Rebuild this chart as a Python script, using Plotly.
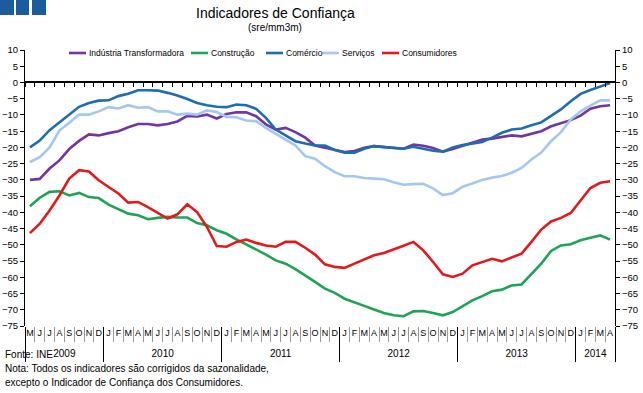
import plotly.graph_objects as go

# ---------------- data ----------------
years = ["2009", "2010", "2011", "2012", "2013", "2014"]
months_per_year = [8, 12, 12, 12, 12, 4]
month_letters = ["J", "F", "M", "A", "M", "J", "J", "A", "S", "O", "N", "D"]
start_month = 4  # May (0 = Jan)

industria = [-30, -29.7, -26.5, -24, -20.5, -18, -16, -16.3,
             -15.6, -15, -13.8, -12.8, -12.8, -13.2, -12.8, -12, -10.3, -10.5, -9.9, -11.1,
             -9.7, -9.2, -9.2, -10.4, -12.9, -14.5, -14, -15.3, -17, -19.4, -20.1, -20.8,
             -21.4, -21.1, -20.1, -19.6, -19.9, -20.1, -20.4, -19.1, -19.5, -20.2, -21.3, -20.5,
             -19.5, -18.5, -17.6, -17.3, -16.8, -16.3, -16.6, -15.7, -15, -13.5, -12.6, -11.6,
             -10.2, -8.1, -7.3, -7]
construcao = [-38.1, -35.5, -33.7, -33.5, -34.8, -34, -35.3, -35.6,
              -37.6, -38.9, -40.4, -40.9, -42.1, -41.7, -41.4, -41.6, -41.6, -43.3, -44, -45.5,
              -46.6, -48.3, -49.8, -51.5, -53, -54.8, -55.8, -57.5, -59.4, -61.4, -63.5, -64.8,
              -66.6, -67.6, -68.8, -69.9, -71, -71.7, -72, -70.5, -70.4, -71, -71.7, -70.7,
              -68.9, -67.1, -65.8, -64.3, -63.8, -62.5, -62.2, -58.9, -55.8, -51.9, -50.2, -49.8,
              -48.6, -47.8, -47.1, -48.4]
comercio = [-20, -17.9, -14.7, -12.2, -9.7, -7.5, -6.3, -5.6,
            -5.5, -4.2, -3.5, -2.4, -2.4, -2.5, -3.2, -4, -5.1, -6.3, -7, -7.5,
            -7.6, -6.8, -7, -8.1, -10.9, -14.5, -16.3, -18.1, -18.8, -19.4, -19.4, -20.8,
            -21.6, -21.6, -20.4, -19.6, -19.9, -20.1, -20.4, -19.8, -20.5, -21, -21.3, -20,
            -19.3, -18.7, -18.3, -17, -15.5, -14.5, -14.2, -13.2, -12.3, -10.3, -8.3, -5.8,
            -3.5, -2.3, -1.2, -0.2]
servicos = [-24.5, -23, -20, -14.8, -12.4, -9.9, -9.9, -8.9,
            -7.6, -8, -7, -7.8, -7.6, -8.9, -8.9, -9.9, -9.6, -9.9, -8.6, -9.1,
            -10.6, -10.7, -11.7, -11.9, -14, -15.7, -17.6, -19.4, -22.7, -23.5, -25.8, -27.6,
            -28.9, -28.9, -29.4, -29.6, -29.8, -30.7, -31.5, -31.3, -31.2, -32.6, -34.7, -34.1,
            -32.1, -31.1, -30, -29.3, -28.8, -27.8, -26.3, -23.7, -21.6, -18.1, -15.3, -11.4,
            -8.9, -7.1, -5.5, -5.5]
consumidores = [-46.4, -43.5, -39.4, -34.8, -29.6, -27, -27.4, -30.1,
                -32.2, -34.2, -37, -36.8, -38.4, -40.1, -41.9, -40.6, -37.5, -39.9, -44.5, -50.4,
                -50.6, -49.1, -48.4, -49.4, -50.2, -50.6, -49.1, -49.1, -50.9, -53, -56, -56.8,
                -57.1, -55.8, -54.5, -53.2, -52.5, -51.5, -50.3, -49.1, -51.7, -55.3, -59.1, -59.9,
                -58.9, -56.3, -55.3, -54.3, -55.1, -53.9, -52.7, -49.1, -45.3, -42.8, -41.7, -40.2,
                -36.5, -32.5, -30.9, -30.4]

series_names = ["Indústria Transformadora", "Construção", "Comércio", "Serviços", "Consumidores"]
series_values = [industria, construcao, comercio, servicos, consumidores]
series_colors = ["#7236A0", "#1FA356", "#1F6CB0", "#A4C7EF", "#E31A1C"]

# categories (one per month) and their letters
categories, tick_letters = [], []
m = start_month
for y, n in zip(years, months_per_year):
    for k in range(n):
        categories.append(f"{y}-{m + 1:02d}")
        tick_letters.append(month_letters[m])
        m = (m + 1) % 12

n_cat = len(categories)
idx = list(range(n_cat))
bounds, centers = [-0.5], []
pos = 0
for n in months_per_year:
    centers.append(pos + (n - 1) / 2)
    pos += n
    bounds.append(pos - 0.5)

YMIN, YMAX = -75, 10
FONT = "Liberation Sans, Arial, sans-serif"

# layout geometry (pixels)
W, H = 643, 393
ML, MR, MT, MB = 25, 28, 50, 67
PW, PH = W - ML - MR, H - MT - MB


def px_x(p):
    return (p - ML) / PW


def px_y(p):
    return (H - MB - p) / PH


fig = go.Figure()
for name, vals, col in zip(series_names, series_values, series_colors):
    fig.add_trace(go.Scatter(x=categories, y=vals, mode="lines", name=name,
                             line=dict(color=col, width=2.6), hoverinfo="x+y"))

# invisible helper traces so that the overlay axes are drawn
for ax in ["x2", "x3", "x4", "x5"]:
    fig.add_trace(go.Scatter(x=idx, y=[None] * n_cat, xaxis=ax, yaxis="y",
                             showlegend=False, hoverinfo="skip", mode="lines"))
fig.add_trace(go.Scatter(x=categories, y=[None] * n_cat, yaxis="y2",
                         showlegend=False, hoverinfo="skip", mode="lines"))

zero_pos = (0 - YMIN) / (YMAX - YMIN)
xr = [-0.5, n_cat - 0.5]
common = dict(showgrid=False, zeroline=False, automargin=False)

fig.update_layout(
    width=W, height=H,
    margin=dict(l=ML, r=MR, t=MT, b=MB, autoexpand=False),
    paper_bgcolor="white", plot_bgcolor="white",
    font=dict(family=FONT, size=10, color="black"),
    showlegend=False,
    xaxis=dict(type="category", range=xr, tickmode="array", tickvals=categories,
               ticktext=tick_letters, ticks="", showline=False, tickangle=0,
               tickfont=dict(size=9), **common),
    xaxis2=dict(overlaying="x", anchor="y", range=xr, tick0=-0.5, dtick=1,
                ticks="outside", ticklen=15, tickcolor="#9a9a9a", tickwidth=1,
                showticklabels=False, showline=False, **common),
    xaxis3=dict(overlaying="x", anchor="free", position=zero_pos, range=xr,
                tick0=-0.5, dtick=1, ticks="outside", ticklen=4, tickcolor="black",
                tickwidth=1, showticklabels=False, showline=True, linecolor="black",
                linewidth=1.5, **common),
    xaxis4=dict(overlaying="x", anchor="y", range=xr, tickmode="array", tickvals=bounds,
                ticks="outside", ticklen=35, tickcolor="black", tickwidth=1.2,
                showticklabels=False, showline=False, **common),
    xaxis5=dict(overlaying="x", anchor="y", range=xr, tickmode="array", tickvals=centers,
                ticktext=years, ticks="outside", ticklen=18, tickcolor="rgba(0,0,0,0)",
                showline=False, tickangle=0, tickfont=dict(size=10), **common),
    yaxis=dict(range=[YMIN, YMAX], dtick=5, ticks="outside", ticklen=4, tickcolor="black",
               showline=True, linecolor="black", linewidth=1,
               tickfont=dict(size=9.5), **common),
    yaxis2=dict(overlaying="y", side="right", anchor="x", range=[YMIN, YMAX], dtick=5,
                ticks="outside", ticklen=4, tickcolor="black", showline=True,
                linecolor="black", linewidth=1, tickfont=dict(size=9.5), **common),
)

# title, subtitle
fig.add_annotation(text="Indicadores de Confiança", xref="paper", yref="paper",
                   x=px_x(275), y=px_y(13), xanchor="center", yanchor="middle",
                   showarrow=False, font=dict(size=14, family=FONT))
fig.add_annotation(text="(sre/mm3m)", xref="paper", yref="paper",
                   x=px_x(275), y=px_y(27), xanchor="center", yanchor="middle",
                   showarrow=False, font=dict(size=10, family=FONT))

# legend drawn by hand (line sample + label)
legend_line_x = [69, 191, 266, 322, 382]
legend_line_len = 17
LEG_Y = 53
for name, col, lx in zip(series_names, series_colors, legend_line_x):
    fig.add_shape(type="line", xref="paper", yref="paper",
                  x0=px_x(lx), x1=px_x(lx + legend_line_len), y0=px_y(LEG_Y), y1=px_y(LEG_Y),
                  line=dict(color=col, width=2.6))
    fig.add_annotation(text=name, xref="paper", yref="paper",
                       x=px_x(lx + legend_line_len + 1), y=px_y(LEG_Y),
                       xanchor="left", yanchor="middle", showarrow=False,
                       font=dict(size=8.5, family=FONT))

# footnotes
notes = ["Fonte: INE",
         "Nota: Todos os indicadores são corrigidos da sazonalidade,",
         "excepto o Indicador de Confiança dos Consumidores."]
for t, yy in zip(notes, [354, 368, 382]):
    fig.add_annotation(text=t, xref="paper", yref="paper", x=px_x(3), y=px_y(yy),
                       xanchor="left", yanchor="middle", showarrow=False,
                       font=dict(size=10, family=FONT))

# decorative blue squares (top-left)
for x0, x1 in [(0, 14), (16, 29), (32, 46)]:
    fig.add_shape(type="rect", xref="paper", yref="paper", x0=px_x(x0), x1=px_x(x1),
                  y0=px_y(15), y1=px_y(0), fillcolor="#1A5C9E", line=dict(width=0))

fig.write_html("out.html",
               config={"displayModeBar": False},
               post_script="document.body.style.margin='0';"
                           "document.body.style.overflow='hidden';")
